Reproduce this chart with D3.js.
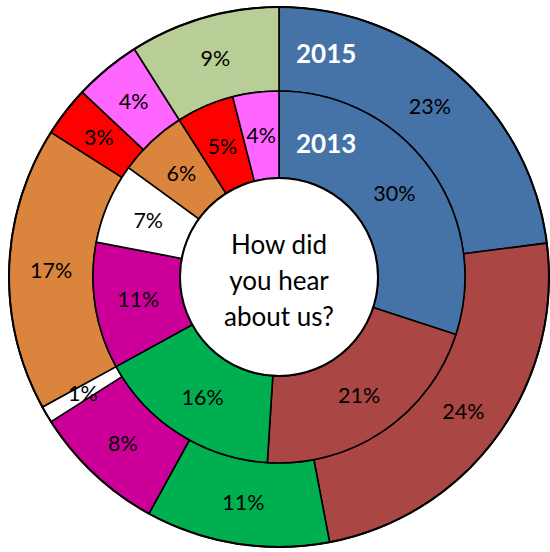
<!DOCTYPE html>
<html>
<head>
<meta charset="utf-8">
<script src="https://cdn.jsdelivr.net/npm/d3@7"></script>
<style>
  html, body { margin: 0; padding: 0; background: #fff; }
  svg { display: block; }
  text { font-family: Lato, "Open Sans", sans-serif; }
</style>
</head>
<body>
<svg id="chart" width="550" height="552"></svg>
<script>
// Survey answers per source, in percent, for each year
const sources2015 = ["A", "B", "C", "D", "E", "F", "G", "H", "I"];
const values2015  = [23, 24, 11, 8, 1, 17, 3, 4, 9];
const colors2015  = ["#4572A7", "#AA4643", "#00B050", "#CC0099", "#FFFFFF", "#DB843D", "#FF0000", "#FF66FF", "#B9CD96"];

const sources2013 = ["A", "B", "C", "D", "E", "F", "G", "H"];
const values2013  = [30, 21, 16, 11, 7, 6, 5, 4];
const colors2013  = ["#4572A7", "#AA4643", "#00B050", "#CC0099", "#FFFFFF", "#DB843D", "#FF0000", "#FF66FF"];

const centerLines = ["How did", "you hear", "about us?"];

const svg = d3.select("#chart");
const cx = 279, cy = 277;
const rOuter = 270, rMid = 186, rHole = 99;

const g = svg.append("g").attr("transform", `translate(${cx},${cy})`);

const pie = d3.pie().sort(null).value(d => d.v);

function ring(values, colors, names, r0, r1, cls) {
  const data = values.map((v, i) => ({ v, c: colors[i], n: names[i] }));
  const arcs = pie(data);
  const arc = d3.arc().innerRadius(r0).outerRadius(r1);
  const grp = g.append("g").attr("class", cls);
  grp.selectAll("path").data(arcs).join("path")
    .attr("d", arc)
    .attr("fill", d => d.data.c)
    .attr("stroke", "#000")
    .attr("stroke-width", 1.6)
    .attr("stroke-linejoin", "round");
  grp.selectAll("text").data(arcs).join("text")
    .attr("transform", d => `translate(${arc.centroid(d)})`)
    .attr("text-anchor", "middle")
    .attr("dy", "0.36em")
    .attr("font-size", 21.5)
    .attr("fill", "#000")
    .text(d => d.data.v + "%");
}

ring(values2015, colors2015, sources2015, rMid, rOuter, "ring2015");
ring(values2013, colors2013, sources2013, rHole, rMid, "ring2013");

// Outer rim drawn a bit heavier
g.append("circle").attr("r", rOuter).attr("fill", "none").attr("stroke", "#000").attr("stroke-width", 2);

// Centre hole with the question
g.append("circle").attr("r", rHole).attr("fill", "#fff").attr("stroke", "#000").attr("stroke-width", 2);
g.append("text")
  .attr("text-anchor", "middle")
  .attr("font-size", 26)
  .attr("fill", "#000")
  .selectAll("tspan").data(centerLines).join("tspan")
  .attr("x", 0)
  .attr("y", (d, i) => -23 + i * 36)
  .text(d => d);

// Year captions inside the top-right slice
const yearLabels = [{ t: "2015", y: 63 }, { t: "2013", y: 153 }];
svg.selectAll("text.year").data(yearLabels).join("text")
  .attr("class", "year")
  .attr("x", 296)
  .attr("y", d => d.y)
  .attr("font-size", 26)
  .attr("font-weight", "bold")
  .attr("fill", "#fff")
  .text(d => d.t);
</script>
</body>
</html>
